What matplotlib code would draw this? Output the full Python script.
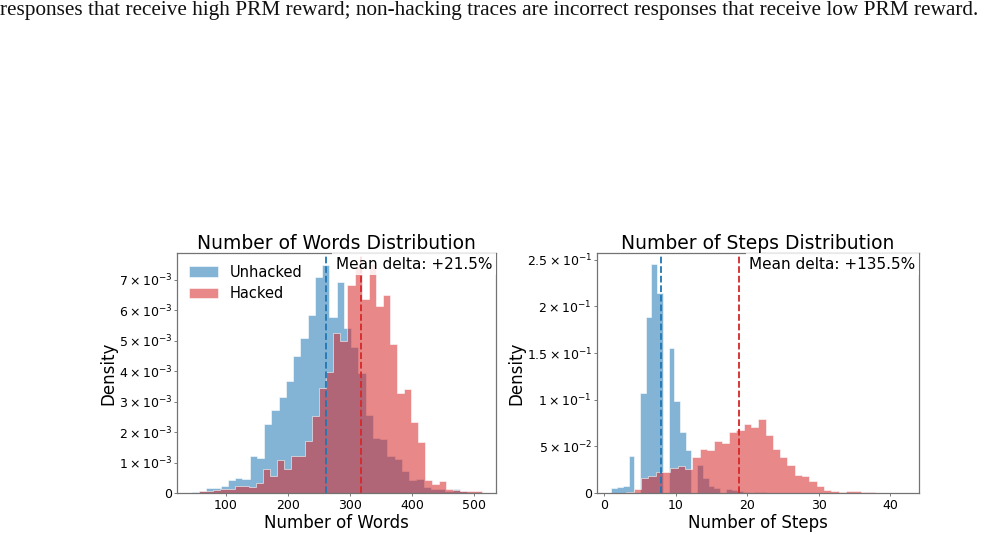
import matplotlib
matplotlib.use("Agg")
import matplotlib.pyplot as plt
import numpy as np
from matplotlib.ticker import FixedLocator, FixedFormatter

# ---------------- data ----------------
caption = ("responses that receive high PRM reward; non-hacking traces are "
           "incorrect responses that receive low PRM reward.")

series_labels = ["Unhacked", "Hacked"]

# Number of words: histogram ranges, bins and densities (x 1e-3)
words_unhacked_range = (44.4, 512.0)
words_hacked_range = (57.0, 512.0)
words_bins = 40
words_unhacked_density = [0.03, 0.08, 0.15, 0.15, 0.22, 0.43, 0.50, 0.47, 1.20, 1.15,
                          2.25, 2.72, 3.16, 3.67, 4.49, 5.07, 5.83, 7.09, 7.47, 5.78,
                          6.92, 5.40, 4.80, 3.93, 2.56, 1.80, 1.78, 1.20, 1.12, 0.71,
                          0.44, 0.47, 0.20, 0.14, 0.14, 0.05, 0.12, 0.05, 0.02, 0.02]
words_hacked_density = [0.05, 0.07, 0.10, 0.12, 0.13, 0.24, 0.24, 0.19, 0.33, 0.80,
                        0.55, 1.09, 0.80, 1.20, 1.23, 1.69, 2.53, 3.45, 3.97, 5.26,
                        5.00, 6.82, 7.45, 6.38, 7.50, 6.14, 6.51, 4.90, 3.28, 3.40,
                        2.32, 1.67, 0.44, 0.31, 0.38, 0.13, 0.10, 0.07, 0.07, 0.07]
words_means = [262.0, 318.5]
words_delta = "Mean delta: +21.5%"
words_xticks = [100, 200, 300, 400, 500]
words_yticks = [0, 1e-3, 2e-3, 3e-3, 4e-3, 5e-3, 6e-3, 7e-3]
words_yticklabels = ["0"] + [r"$%d\times10^{-3}$" % i for i in range(1, 8)]

# Number of steps
steps_unhacked_range = (1.0, 41.0)
steps_unhacked_bins = 50
steps_hacked_range = (3.1, 42.0)
steps_hacked_bins = 38
steps_unhacked_density = [0.005, 0.006, 0.007, 0.040, 0.0, 0.107, 0.189, 0.245, 0.214, 0.0,
                          0.155, 0.0987, 0.065, 0.0456, 0.0, 0.030, 0.016, 0.008, 0.005, 0.0,
                          0.004, 0.003, 0.002, 0.001, 0.0, 0.001, 0.0008, 0.0, 0.0, 0.0,
                          0.0, 0.0, 0.0, 0.0, 0.0, 0.0, 0.0, 0.0, 0.0, 0.0,
                          0.0, 0.0, 0.0, 0.0, 0.0, 0.0, 0.0, 0.0, 0.0, 0.0]
steps_hacked_density = [0.001, 0.004, 0.016, 0.018, 0.022, 0.023, 0.027, 0.029, 0.026, 0.039,
                        0.047, 0.046, 0.056, 0.054, 0.065, 0.068, 0.074, 0.071, 0.079, 0.062,
                        0.047, 0.039, 0.030, 0.0196, 0.018, 0.0125, 0.007, 0.0036, 0.0018, 0.0007,
                        0.0025, 0.0018, 0.0007, 0.0007, 0.0004, 0.0004, 0.0004, 0.0004]
steps_means = [8.0, 18.85]
steps_delta = "Mean delta: +135.5%"
steps_xticks = [0, 10, 20, 30, 40]
steps_yticks = [0, 0.05, 0.10, 0.15, 0.20, 0.25]
steps_yticklabels = ["0", r"$5\times10^{-2}$", r"$1\times10^{-1}$", r"$1.5\times10^{-1}$",
                     r"$2\times10^{-1}$", r"$2.5\times10^{-1}$"]

colors = ["tab:blue", "tab:red"]

# ---------------- figure ----------------
W, H = 1001, 535
fig = plt.figure(figsize=(W / 100, H / 100), dpi=100)

cap = fig.text(0.0, 1 - 11 / H, caption, family="Liberation Serif", fontsize=14,
               ha="left", va="center", color="#111111")
renderer = fig.canvas.get_renderer()
cw = cap.get_window_extent(renderer).width
cap.set_fontsize(14 * 985.0 / cw)


def panel(rect, ranges, nbins, densities, scale, means, delta, xticks, yticks,
          yticklabels, title, xlabel, legend):
    ax = fig.add_axes(rect)
    for rng, nb, dens, col, lab in zip(ranges, nbins, densities, colors, series_labels):
        edges = np.linspace(rng[0], rng[1], nb + 1)
        centers = 0.5 * (edges[:-1] + edges[1:])
        w = np.asarray(dens) * scale
        ax.hist(centers, bins=edges, weights=w, color=col, alpha=0.55,
                histtype="stepfilled", edgecolor="white", linewidth=0.7, label=lab)
    for m, col in zip(means, colors):
        ax.axvline(m, color=col, linestyle="--", linewidth=1.3, zorder=2)
    ax.text(0.988, 0.985, delta, transform=ax.transAxes, ha="right", va="top",
            fontsize=11, zorder=5,
            bbox=dict(facecolor="white", edgecolor="none", alpha=0.85, pad=2.5))
    ax.xaxis.set_major_locator(FixedLocator(xticks))
    ax.yaxis.set_major_locator(FixedLocator(yticks))
    ax.yaxis.set_major_formatter(FixedFormatter(yticklabels))
    ax.tick_params(axis="both", labelsize=9, length=2.5, width=0.6, color="0.4")
    ax.tick_params(axis="y", pad=1)
    ax.tick_params(axis="x", pad=2)
    for s in ax.spines.values():
        s.set_color("0.45")
        s.set_linewidth(0.9)
    ax.set_title(title, fontsize=13.5, pad=2)
    ax.set_xlabel(xlabel, fontsize=12, labelpad=1)
    ax.set_ylabel("Density", fontsize=12, labelpad=1)
    if legend:
        ax.legend(loc="upper left", frameon=False, fontsize=10.5,
                  borderaxespad=0.4, handlelength=2.0, labelspacing=0.45)
    return ax


ax1 = panel([177 / W, (H - 493) / H, (496 - 177) / W, (493 - 253) / H],
            [words_unhacked_range, words_hacked_range], [words_bins, words_bins],
            [words_unhacked_density, words_hacked_density], 1e-3, words_means,
            words_delta, words_xticks, words_yticks, words_yticklabels,
            "Number of Words Distribution", "Number of Words", True)

ax2 = panel([596.7 / W, (H - 493) / H, (919.3 - 596.7) / W, (493 - 253) / H],
            [steps_unhacked_range, steps_hacked_range],
            [steps_unhacked_bins, steps_hacked_bins],
            [steps_unhacked_density, steps_hacked_density], 1.0, steps_means,
            steps_delta, steps_xticks, steps_yticks, steps_yticklabels,
            "Number of Steps Distribution", "Number of Steps", False)

fig.savefig("out.png", dpi=100)
